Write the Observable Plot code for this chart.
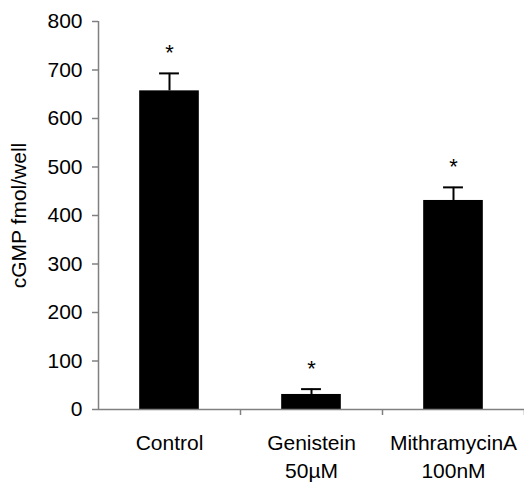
<!DOCTYPE html>
<html>
<head>
<meta charset="utf-8">
<script src="https://cdn.jsdelivr.net/npm/d3@7"></script>
<script src="https://cdn.jsdelivr.net/npm/@observablehq/plot@0.6"></script>
<style>
  html, body { margin: 0; padding: 0; background: #fff; }
  #chart { width: 524px; height: 482px; }
</style>
</head>
<body>
<div id="chart"></div>
<script>
const categories = ["Control", "Genistein\n50µM", "MithramycinA\n100nM"];
const values = [657, 31, 431];
const errors = [36, 11, 27];
const significant = [true, true, true];
const yTicks = [0, 100, 200, 300, 400, 500, 600, 700, 800];

const data = categories.map((c, i) => ({
  cat: c, idx: i, value: values[i], top: values[i] + errors[i], sig: significant[i]
}));

const halfBar = 0.21;
const halfCap = 0.07;
const axisGray = "#808080";

const chart = Plot.plot({
  width: 524,
  height: 482,
  marginLeft: 98,
  marginRight: 0,
  marginTop: 21,
  marginBottom: 73,
  style: { fontFamily: "'Liberation Sans', Arial, sans-serif", background: "#fff", color: "#000", fontSize: "21px" },
  x: { domain: [0, 3] },
  y: { domain: [0, 800] },
  marks: [
    Plot.rectY(data, { x1: d => d.idx + 0.5 - halfBar, x2: d => d.idx + 0.5 + halfBar, y1: 0, y2: "value", fill: "#000" }),
    Plot.ruleX(data, { x: d => d.idx + 0.5, y1: "value", y2: "top", stroke: "#000", strokeWidth: 2 }),
    Plot.ruleY(data, { y: "top", x1: d => d.idx + 0.5 - halfCap, x2: d => d.idx + 0.5 + halfCap, stroke: "#000", strokeWidth: 2 }),
    Plot.text(data.filter(d => d.sig), { x: d => d.idx + 0.5, y: "top", text: () => "*", dy: -20, fontSize: 22, fill: "#000" }),
    Plot.axisY({
      ticks: yTicks, tickSize: 6, tickPadding: 10, fontSize: 21, stroke: axisGray, strokeWidth: 1.5, fill: "#000",
      label: "cGMP fmol/well", labelAnchor: "center", labelArrow: "none", labelOffset: 87
    }),
    Plot.axisX({ ticks: [1, 2, 3], tickSize: 6, tickFormat: () => "", stroke: axisGray, strokeWidth: 1.5, label: null }),
    Plot.axisX({
      ticks: data.map(d => d.idx + 0.5), tickSize: 0, tickPadding: 20, fontSize: 21, lineHeight: 1.35,
      tickFormat: (v) => categories[Math.floor(v)], fill: "#000", label: null
    }),
    Plot.ruleX([0], { stroke: axisGray, strokeWidth: 1.5 }),
    Plot.ruleY([0], { stroke: axisGray, strokeWidth: 1.5 })
  ]
});
document.getElementById("chart").appendChild(chart);
</script>
</body>
</html>
